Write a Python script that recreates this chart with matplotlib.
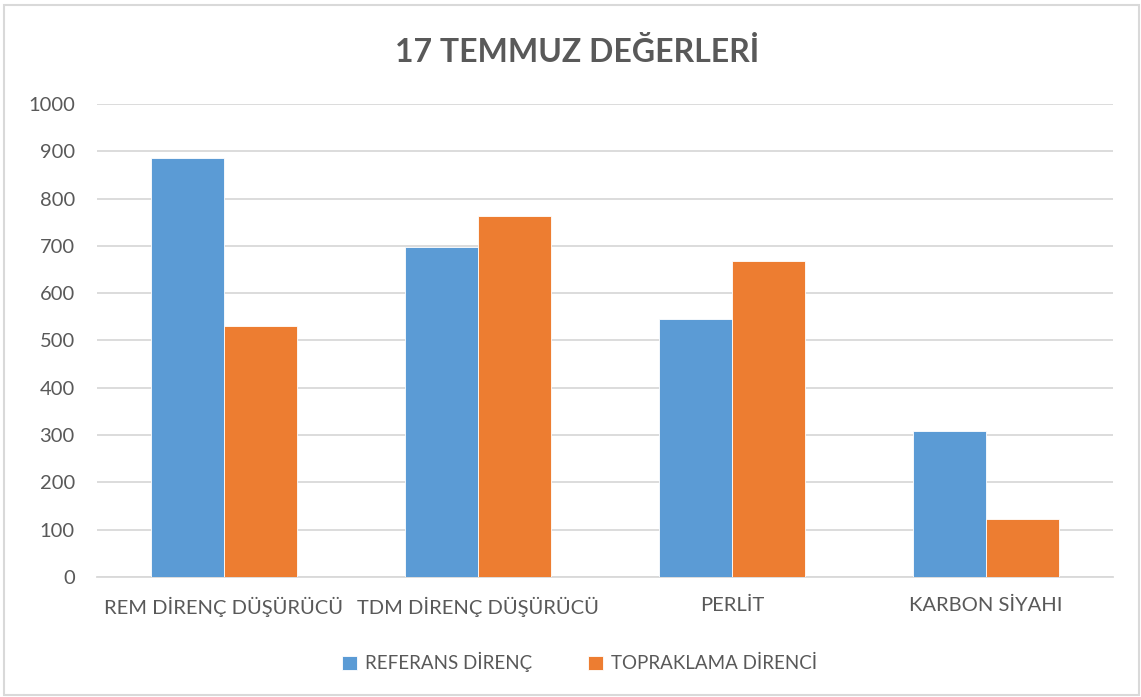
import numpy as np
import matplotlib.pyplot as plt
from matplotlib.patches import Rectangle

categories = ["REM DİRENÇ DÜŞÜRÜCÜ", "TDM DİRENÇ DÜŞÜRÜCÜ", "PERLİT", "KARBON SİYAHI"]
referans = [886, 697, 546, 308]
topraklama = [531, 764, 667, 123]
series_names = ["REFERANS DİRENÇ", "TOPRAKLAMA DİRENCİ"]
yticks = list(range(0, 1001, 100))

plt.rcParams['font.family'] = ['Lato', 'DejaVu Sans']
txt = '#595959'

fig = plt.figure(figsize=(11.41, 6.97), dpi=100)
ax = fig.add_axes([0.085, 0.1722, 0.8905, 0.6786])

x = np.arange(len(categories))
w = 0.2875
ax.bar(x - w / 2, referans, w, color='#5B9BD5', edgecolor='white', linewidth=0.6,
       label=series_names[0], zorder=3)
ax.bar(x + w / 2, topraklama, w, color='#ED7D31', edgecolor='white', linewidth=0.6,
       label=series_names[1], zorder=3)

ax.set_xlim(-0.5, len(categories) - 0.5)
ax.set_ylim(0, 1000)
ax.set_yticks(yticks)
ax.set_xticks(x)
ax.set_xticklabels(categories)
ax.tick_params(axis='both', length=0, labelsize=14.5, colors=txt)
ax.tick_params(axis='y', pad=16)
ax.tick_params(axis='x', pad=14)
ax.grid(axis='y', color='#D9D9D9', linewidth=1.3, zorder=0)
for s in ['top', 'right', 'left']:
    ax.spines[s].set_visible(False)
ax.spines['bottom'].set_color('#D9D9D9')
ax.spines['bottom'].set_linewidth(1.3)

fig.text(0.506, 0.925, "17 TEMMUZ DEĞERLERİ", ha='center', va='center',
         fontsize=23, fontweight='bold', color=txt)

leg = fig.legend(loc='center', bbox_to_anchor=(0.508, 0.05), ncol=2, frameon=False,
                 fontsize=13.5, handlelength=0.8, handleheight=0.8, columnspacing=3.0,
                 handletextpad=0.4)
for t in leg.get_texts():
    t.set_color(txt)

fig.patches.append(Rectangle((4 / 1141, 2 / 697), 1135 / 1141, 690 / 697,
                             transform=fig.transFigure, fill=False,
                             edgecolor='#D9D9D9', linewidth=1.5))

fig.savefig('out.png', dpi=100)
